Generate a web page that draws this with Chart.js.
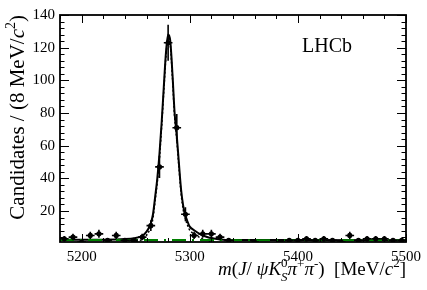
<!DOCTYPE html>
<html>
<head>
<meta charset="utf-8">
<script src="https://cdn.jsdelivr.net/npm/chart.js@4.4.0/dist/chart.umd.min.js"></script>
<style>
  html, body { margin: 0; padding: 0; background: #fff; }
  #wrap { width: 427px; height: 290px; }
</style>
</head>
<body>
<div id="wrap"><canvas id="chart" width="427" height="290"></canvas></div>
<script>
// histogram: 8 MeV bins from 5180 to 5500
const binCenters = [5184, 5192, 5200, 5208, 5216, 5224, 5232, 5240, 5248, 5256,
                    5264, 5272, 5280, 5288, 5296, 5304, 5312, 5320, 5328, 5336,
                    5344, 5352, 5360, 5368, 5376, 5384, 5392, 5400, 5408, 5416,
                    5424, 5432, 5440, 5448, 5456, 5464, 5472, 5480, 5488, 5496];
const counts = [3, 4, 1, 5, 6, 2, 5, 2, 2, 4,
                11, 47, 123, 71, 18, 5, 6, 6, 4, 2,
                0, 0, 1, 0, 0, 1, 2, 2, 3, 2,
                3, 2, 1, 5, 2, 3, 3, 3, 2, 2];

// fit curves
const fitMass = [5180, 5220, 5240, 5250, 5254, 5258, 5262, 5264, 5266, 5268,
                 5270, 5272, 5274, 5276, 5278, 5280, 5282, 5284, 5286, 5288,
                 5290, 5292, 5294, 5296, 5298, 5300, 5304, 5310, 5316, 5322,
                 5328, 5340, 5400, 5500];
const fitTotal = [2.3, 2.4, 2.8, 3.5, 4.1, 5.7, 9.4, 12.5, 18, 28.6,
                  40, 55, 74, 96, 117, 128, 124, 104, 80, 66,
                  49, 33, 23, 17.4, 13.4, 10.4, 8.2, 5.7, 4.1, 3.2,
                  2.6, 2.25, 2.15, 2.0];
const fitSignal = [0, 0.1, 0.6, 1.3, 2.0, 3.5, 7.2, 10.3, 15.7, 26.4,
                   37.7, 52.7, 71.7, 93.7, 114.7, 125.7, 121.7, 101.7, 77.7, 63.7,
                   46.7, 30.7, 20.7, 15.2, 11.2, 8.2, 6.0, 3.5, 1.9, 1.0,
                   0.5, 0.1, 0, 0];
const bkgMass = [5180, 5500];
const bkgLevel = [2.3, 2.0];

const xTicks = [5200, 5300, 5400, 5500];
const yTicks = [20, 40, 60, 80, 100, 120, 140];

const serif = "'Liberation Serif', 'DejaVu Serif', serif";

function pts(xs, ys) {
  return xs.map((x, i) => ({ x: x, y: ys[i] }));
}

const dataPoints = pts(binCenters, counts).filter(p => p.y > 0);

// draw a run of text pieces: {t, it (italic), sh (shift), s (size)}
function runsWidth(ctx, runs) {
  let w = 0;
  runs.forEach(r => {
    ctx.font = (r.it ? 'italic ' : '') + r.s + 'px ' + serif;
    if (!r.noAdvance) w += ctx.measureText(r.t).width;
  });
  return w;
}
function drawRuns(ctx, runs, x, y) {
  runs.forEach(r => {
    ctx.font = (r.it ? 'italic ' : '') + r.s + 'px ' + serif;
    ctx.fillText(r.t, x, y + (r.sh || 0));
    if (!r.noAdvance) x += ctx.measureText(r.t).width;
  });
}

const rootStyle = {
  id: 'rootStyle',
  afterDatasetsDraw(chart) {
    const ctx = chart.ctx, xs = chart.scales.x, ys = chart.scales.y, a = chart.chartArea;
    ctx.save();
    ctx.beginPath();
    ctx.rect(a.left, a.top, a.right - a.left, a.bottom - a.top);
    ctx.clip();
    ctx.strokeStyle = '#000';
    ctx.lineWidth = 1.6;
    dataPoints.forEach(p => {
      const e = Math.sqrt(p.y);
      const px = xs.getPixelForValue(p.x), py = ys.getPixelForValue(p.y);
      ctx.beginPath();
      ctx.moveTo(xs.getPixelForValue(p.x - 4), py);
      ctx.lineTo(xs.getPixelForValue(p.x + 4), py);
      ctx.moveTo(px, ys.getPixelForValue(p.y - e));
      ctx.lineTo(px, ys.getPixelForValue(p.y + e));
      ctx.stroke();
    });
    ctx.restore();
  },
  afterDraw(chart) {
    const ctx = chart.ctx, xs = chart.scales.x, ys = chart.scales.y, a = chart.chartArea;
    ctx.save();
    ctx.strokeStyle = '#000';
    ctx.lineWidth = 1;
    ctx.beginPath();
    // x ticks, bottom and top
    for (let v = 5180; v <= 5500; v += 20) {
      const px = Math.round(xs.getPixelForValue(v)) + 0.5;
      const len = xTicks.includes(v) ? 8 : 4;
      ctx.moveTo(px, a.bottom); ctx.lineTo(px, a.bottom - len);
      ctx.moveTo(px, a.top); ctx.lineTo(px, a.top + len);
    }
    // y ticks, left and right
    for (let v = 4; v <= 140; v += 4) {
      const py = Math.round(ys.getPixelForValue(v)) + 0.5;
      const len = yTicks.includes(v) ? 9 : 4.5;
      ctx.moveTo(a.left, py); ctx.lineTo(a.left + len, py);
      ctx.moveTo(a.right, py); ctx.lineTo(a.right - len, py);
    }
    ctx.stroke();
    ctx.lineWidth = 1.8;
    ctx.strokeRect(a.left, a.top, a.right - a.left, a.bottom - a.top);

    ctx.fillStyle = '#000';
    ctx.textBaseline = 'alphabetic';
    ctx.textAlign = 'left';

    // LHCb label
    ctx.font = '20px ' + serif;
    ctx.fillText('LHCb', 302, 52);

    // x title
    const S = 19, s = 13;
    const xRuns = [
      { t: 'm', it: true, s: S }, { t: '(', s: S }, { t: 'J', it: true, s: S },
      { t: '/ ', s: S }, { t: 'ψ', it: true, s: S }, { t: 'K', it: true, s: S },
      { t: '0', s: s, sh: -8, noAdvance: true }, { t: 'S', it: true, s: s, sh: 6 },
      { t: 'π', it: true, s: S }, { t: '+', s: s, sh: -7 },
      { t: 'π', it: true, s: S }, { t: '-', s: s, sh: -7 },
      { t: ')  [MeV/', s: S }, { t: 'c', it: true, s: S }, { t: '2', s: s, sh: -8 },
      { t: ']', s: S }
    ];
    const xw = runsWidth(ctx, xRuns);
    drawRuns(ctx, xRuns, a.right - xw, 275);

    // y title
    const Y = 21, y2 = 14;
    const yRuns = [
      { t: 'Candidates / (8 MeV/', s: Y }, { t: 'c', it: true, s: Y },
      { t: '2', s: y2, sh: -9 }, { t: ')', s: Y }
    ];
    const yw = runsWidth(ctx, yRuns);
    ctx.translate(24, a.top + yw);
    ctx.rotate(-Math.PI / 2);
    drawRuns(ctx, yRuns, 0, 0);
    ctx.restore();
  }
};

new Chart(document.getElementById('chart'), {
  type: 'scatter',
  data: {
    datasets: [
      {
        label: 'Data',
        data: dataPoints,
        pointRadius: 2.6,
        pointBackgroundColor: '#000',
        pointBorderColor: '#000',
        pointBorderWidth: 0
      },
      {
        label: 'Background',
        type: 'line',
        data: pts(bkgMass, bkgLevel),
        borderColor: '#008000',
        borderWidth: 2,
        borderDash: [14, 6, 2, 6],
        pointRadius: 0,
        fill: false
      },
      {
        label: 'Fit',
        type: 'line',
        data: pts(fitMass, fitTotal),
        borderColor: '#000',
        borderWidth: 2,
        pointRadius: 0,
        cubicInterpolationMode: 'monotone',
        fill: false
      },
      {
        label: 'Signal',
        type: 'line',
        data: pts(fitMass, fitSignal),
        borderColor: '#000',
        borderWidth: 1.5,
        borderDash: [2, 2],
        pointRadius: 0,
        cubicInterpolationMode: 'monotone',
        fill: false
      }
    ]
  },
  options: {
    responsive: false,
    animation: false,
    layout: { padding: { left: 0, right: 21, top: 15, bottom: 0 } },
    plugins: { legend: { display: false }, tooltip: { enabled: false } },
    scales: {
      x: {
        type: 'linear',
        min: 5180,
        max: 5500,
        grid: { display: false, drawTicks: false },
        border: { display: false },
        afterBuildTicks: sc => { sc.ticks = xTicks.map(v => ({ value: v })); },
        afterFit: sc => { sc.height = 48; },
        ticks: { color: '#000', font: { family: serif, size: 15 }, padding: 6, maxRotation: 0,
                 callback: v => String(v) }
      },
      y: {
        min: 1,
        max: 140,
        grid: { display: false, drawTicks: false },
        border: { display: false },
        afterBuildTicks: sc => { sc.ticks = yTicks.map(v => ({ value: v })); },
        afterFit: sc => { sc.width = 60; },
        ticks: { color: '#000', font: { family: serif, size: 15 }, padding: 5,
                 callback: v => String(v) }
      }
    }
  },
  plugins: [rootStyle]
});
</script>
</body>
</html>
